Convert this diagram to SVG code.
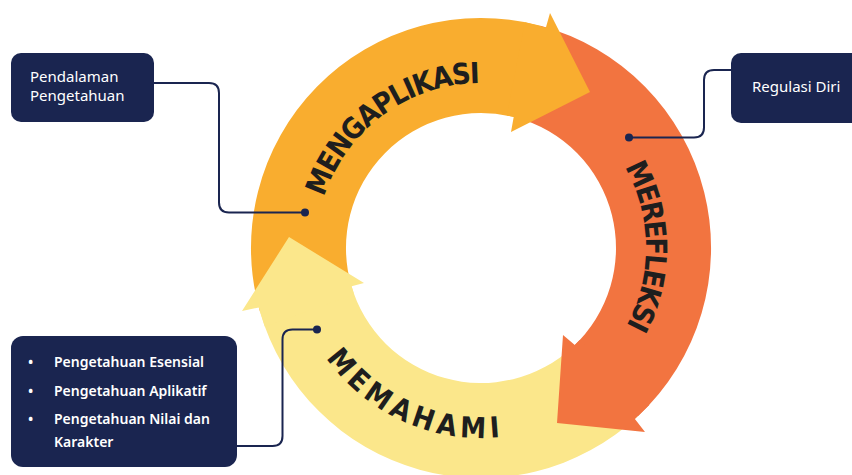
<svg xmlns="http://www.w3.org/2000/svg" width="852" height="475" viewBox="0 0 852 475">
<style>
.box{fill:#1A2550}
.lbl{font-family:"Noto Sans","Liberation Sans",sans-serif;fill:#FFFFFF;font-size:15px}
.blt{font-family:"Noto Sans","Liberation Sans",sans-serif;fill:#FFFFFF;font-size:14px;font-weight:600}
.conn{fill:none;stroke:#1A2550;stroke-width:2}
.dot{fill:#1A2550}
.arc{font-family:"Liberation Sans Narrow","DejaVu Sans Condensed","Roboto Condensed",sans-serif;font-stretch:condensed;font-weight:700;font-size:29px;fill:#1E1E1E}
.a{fill:#F9AD2F}
.b{fill:#F27440}
.c{fill:#FBE78B}
</style>
<defs>
<path id="pA" d="M324.1,197 A165,165 0 0 1 479.6,83"/>
<path id="pB" d="M624.6,166.8 A165,165 0 0 1 626.3,326.2"/>
<path id="pC" d="M326.1,358.1 A190,190 0 0 0 500.2,437"/>
</defs>
<rect width="852" height="475" fill="#FFFFFF"/>
<g id="cycle">
<path class="a" d="M259.9,311.4 A230,230 0 0 1 540.5,25.8 L515.9,117.6 A135,135 0 0 0 351.2,285.2 Z"/>
<path class="b" d="M540.5,25.8 A230,230 0 0 1 637.9,416.2 L573.1,346.7 A135,135 0 0 0 515.9,117.6 Z"/>
<path class="c" d="M637.9,416.2 A230,230 0 0 1 259.9,311.4 L351.2,285.2 A135,135 0 0 0 573.1,346.7 Z"/>
<polygon class="a" points="524.9,22.2 545.9,27.4 550,13 590,92 511,132 513.7,117 506.8,115.5"/>
<polygon class="b" points="649.2,404.9 634.9,418.9 645,432 557,423 563,335 574.8,345.1 579.7,340.1"/>
<polygon class="c" points="264.9,326.7 258.8,307.5 242,311 289,237 364,283 351.6,286.3 354.1,294.2"/>
</g>
<g id="mengaplikasi"><text class="arc"><textPath href="#pA" textLength="206" lengthAdjust="spacing">MENGAPLIKASI</textPath></text></g>
<g id="merefleksi"><text class="arc"><textPath href="#pB" textLength="166" lengthAdjust="spacing">MEREFLEKSI</textPath></text></g>
<g id="memahami"><text class="arc"><textPath href="#pC" textLength="200" lengthAdjust="spacing">MEMAHAMI</textPath></text></g>
<g id="connectors">
<path class="conn" d="M154,83 H209 Q219,83 219,93 V202.5 Q219,212.5 229,212.5 H305"/>
<circle class="dot" cx="305" cy="212.5" r="4"/>
<path class="conn" d="M731,70 H714 Q704,70 704,80 V127.5 Q704,137.5 694,137.5 H629"/>
<circle class="dot" cx="629" cy="137.5" r="4"/>
<path class="conn" d="M237,446 H272.5 Q282.5,446 282.5,436 V339.5 Q282.5,329.5 292.5,329.5 H317"/>
<circle class="dot" cx="317" cy="329.5" r="4"/>
</g>
<g id="box-pendalaman">
<rect class="box" x="11" y="53" width="143" height="69" rx="10"/>
<text class="lbl" x="30" y="82">Pendalaman</text>
<text class="lbl" x="30" y="101">Pengetahuan</text>
</g>
<g id="box-regulasi">
<rect class="box" x="731" y="53" width="135" height="70" rx="10"/>
<text class="lbl" x="752" y="92">Regulasi Diri</text>
</g>
<g id="box-pengetahuan">
<rect class="box" x="11" y="336" width="226" height="131" rx="12"/>
<text class="blt" y="367"><tspan x="28">•</tspan><tspan x="54">Pengetahuan Esensial</tspan></text>
<text class="blt" y="396"><tspan x="28">•</tspan><tspan x="54">Pengetahuan Aplikatif</tspan></text>
<text class="blt" y="424"><tspan x="28">•</tspan><tspan x="54">Pengetahuan Nilai dan</tspan></text>
<text class="blt" x="54" y="447">Karakter</text>
</g>
</svg>
